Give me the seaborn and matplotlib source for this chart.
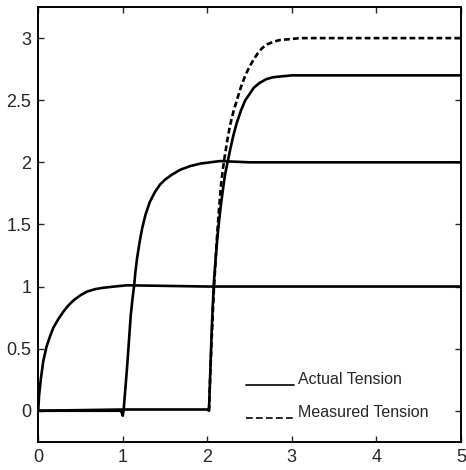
import matplotlib
matplotlib.use("Agg")
import matplotlib.pyplot as plt
from matplotlib.lines import Line2D
from matplotlib.legend_handler import HandlerLine2D
import seaborn as sns
import pandas as pd

# Tension step responses (time in s, tension in arbitrary units)
t_step1 = [0.0, 0.01, 0.03, 0.06, 0.10, 0.14, 0.18, 0.24, 0.30, 0.36, 0.42,
           0.50, 0.58, 0.68, 0.77, 0.90, 1.05, 2.0, 3.0, 4.0, 5.0]
v_step1 = [0.0, 0.12, 0.25, 0.40, 0.52, 0.60, 0.67, 0.74, 0.80, 0.85, 0.89,
           0.93, 0.96, 0.98, 0.99, 1.0, 1.01, 1.0, 1.0, 1.0, 1.0]

t_step2 = [0.0, 0.98, 1.0, 1.01, 1.03, 1.05, 1.07, 1.095, 1.115, 1.135, 1.15,
           1.17, 1.20, 1.23, 1.27, 1.32, 1.38, 1.44, 1.50, 1.58, 1.68, 1.80,
           1.92, 2.15, 2.5, 3.0, 4.0, 5.0]
v_step2 = [0.0, 0.0, -0.04, 0.0, 0.17, 0.34, 0.53, 0.77, 0.90, 1.01, 1.12,
           1.23, 1.36, 1.47, 1.58, 1.68, 1.76, 1.82, 1.86, 1.90, 1.94, 1.97,
           1.99, 2.01, 2.0, 2.0, 2.0, 2.0]

t_step3 = [0.0, 1.0, 2.0, 2.02, 2.035, 2.05, 2.065, 2.08, 2.10, 2.12, 2.14,
           2.16, 2.185, 2.21, 2.24, 2.27, 2.31, 2.35, 2.40, 2.45, 2.50, 2.55,
           2.62, 2.70, 2.78, 2.85, 3.0, 3.1, 4.0, 5.0]
v_step3 = [0.0, 0.01, 0.01, 0.0, 0.30, 0.60, 0.85, 1.05, 1.23, 1.40, 1.53,
           1.65, 1.78, 1.90, 2.0, 2.10, 2.22, 2.32, 2.42, 2.50, 2.55, 2.60,
           2.64, 2.67, 2.685, 2.69, 2.70, 2.70, 2.70, 2.70]

t_meas = [2.02, 2.035, 2.05, 2.065, 2.08, 2.10, 2.12, 2.14, 2.16, 2.18, 2.20,
          2.235, 2.27, 2.31, 2.35, 2.40, 2.45, 2.50, 2.55, 2.60, 2.65, 2.71,
          2.78, 2.86, 2.95, 3.1, 4.0, 5.0]
v_meas = [0.0, 0.28, 0.55, 0.78, 1.0, 1.23, 1.45, 1.63, 1.80, 1.92, 2.02,
          2.17, 2.30, 2.41, 2.50, 2.61, 2.70, 2.77, 2.83, 2.88, 2.92, 2.95,
          2.97, 2.985, 2.99, 3.0, 3.0, 3.0]

legend_labels = ["Actual Tension", "Measured Tension"]
x_ticks = [0, 1, 2, 3, 4, 5]
y_ticks = [0, 0.5, 1, 1.5, 2, 2.5, 3]
y_tick_labels = ["0", "0.5", "1", "1.5", "2", "2.5", "3"]


class BaselineLineHandler(HandlerLine2D):
    """Legend line drawn along the text baseline instead of its middle."""

    def create_artists(self, legend, orig_handle, xdescent, ydescent,
                       width, height, fontsize, trans):
        artists = super().create_artists(legend, orig_handle, xdescent,
                                         ydescent, width, height, fontsize,
                                         trans)
        for a in artists:
            if isinstance(a, Line2D):
                a.set_ydata([y - 0.6 * height for y in a.get_ydata()])
        return artists


sns.set_style("ticks")
plt.rcParams["font.family"] = ["Liberation Sans", "DejaVu Sans"]
plt.rcParams["xtick.direction"] = "in"
plt.rcParams["ytick.direction"] = "in"

fig = plt.figure(figsize=(4.66, 4.70), dpi=100)
ax = fig.add_axes([0.082, 0.06, 0.907, 0.925])

lw = 1.9
for t, v in [(t_step1, v_step1), (t_step2, v_step2), (t_step3, v_step3)]:
    df = pd.DataFrame({"t": t, "v": v})
    sns.lineplot(data=df, x="t", y="v", ax=ax, color="black", linewidth=lw,
                 sort=False, estimator=None)
df_m = pd.DataFrame({"t": t_meas, "v": v_meas})
sns.lineplot(data=df_m, x="t", y="v", ax=ax, color="black", linewidth=lw,
             linestyle=(0, (2.2, 1.2)), sort=False, estimator=None)

ax.set_xlim(0, 5)
ax.set_ylim(-0.25, 3.25)
ax.set_xticks(x_ticks)
ax.set_yticks(y_ticks)
ax.set_yticklabels(y_tick_labels)
ax.set_xlabel("")
ax.set_ylabel("")
ax.tick_params(axis="both", labelsize=13, length=4, width=1,
               top=True, right=True, pad=5)
for s in ax.spines.values():
    s.set_visible(True)
    s.set_linewidth(1.4)
    s.set_color("black")

handles = [Line2D([], [], color="black", linewidth=1.2),
           Line2D([], [], color="black", linewidth=1.2, linestyle=(0, (4, 2)))]
ax.legend(handles, legend_labels, frameon=False, loc="lower right",
          bbox_to_anchor=(0.957, 0.017), fontsize=11.5, handlelength=3.0,
          handletextpad=0.25, labelspacing=1.15,
          handler_map={Line2D: BaselineLineHandler()})

fig.savefig("out.png", dpi=100)
